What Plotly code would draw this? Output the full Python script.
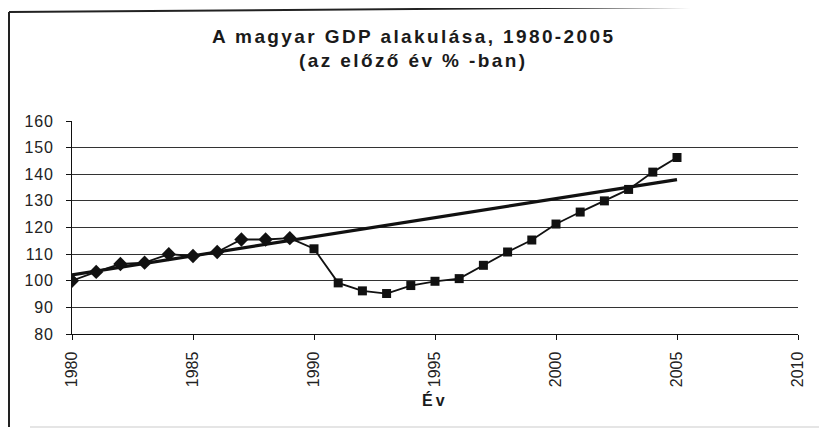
import plotly.graph_objects as go

# ---- data ----
years_1 = [1980, 1981, 1982, 1983, 1984, 1985, 1986, 1987, 1988, 1989]
gdp_1 = [100.0, 103.3, 106.3, 106.8, 110.0, 109.3, 110.8, 115.5, 115.5, 116.0]
years_2 = [1990, 1991, 1992, 1993, 1994, 1995, 1996, 1997, 1998, 1999,
           2000, 2001, 2002, 2003, 2004, 2005]
gdp_2 = [112.0, 99.2, 96.2, 95.2, 98.2, 99.8, 100.8, 105.8, 110.8, 115.3,
         121.3, 125.8, 130.0, 134.3, 140.8, 146.3]
trend_years = [1980, 2005]
trend_values = [102.2, 138.0]

x_ticks = [1980, 1985, 1990, 1995, 2000, 2005, 2010]
y_ticks = [80, 90, 100, 110, 120, 130, 140, 150, 160]
y_grid = [90, 100, 110, 120, 130, 140, 150]

title_1 = "A magyar GDP alakulása, 1980-2005"
title_2 = "(az előző év % -ban)"
x_title = "Év"

NARROW = "Liberation Sans Narrow, Arial Narrow, Liberation Sans, Arial, sans-serif"
SANS = "Liberation Sans, Arial, sans-serif"
INK = "#111111"

# the page has an 8px body margin, so the figure is 8px smaller
PX_L, PX_T, PLOT_W, PLOT_H = 72, 121, 726, 213   # plot box on screen


def px(x):
    return (x - PX_L) / PLOT_W


def py(y):
    return (PX_T + PLOT_H - y) / PLOT_H


fig = go.Figure()

fig.add_trace(go.Scatter(
    x=years_1 + years_2, y=gdp_1 + gdp_2, mode="lines",
    line=dict(color=INK, width=1.8), hoverinfo="skip", showlegend=False))
fig.add_trace(go.Scatter(
    x=trend_years, y=trend_values, mode="lines",
    line=dict(color=INK, width=3.2), showlegend=False))
fig.add_trace(go.Scatter(
    x=years_1, y=gdp_1, mode="markers",
    marker=dict(symbol="diamond", size=11, color=INK), showlegend=False))
fig.add_trace(go.Scatter(
    x=years_2, y=gdp_2, mode="markers",
    marker=dict(symbol="square", size=9, color=INK), showlegend=False))
fig.add_trace(go.Scatter(x=[x_ticks[0]], y=[y_ticks[0]], yaxis="y2",
                         mode="markers", marker=dict(opacity=0),
                         hoverinfo="skip", showlegend=False))

fig.update_layout(
    width=819, height=424,
    margin=dict(l=PX_L - 8, r=29, t=PX_T - 8, b=424 - (PX_T + PLOT_H - 8)),
    paper_bgcolor="white", plot_bgcolor="rgba(0,0,0,0)",
    xaxis=dict(
        range=[x_ticks[0], x_ticks[-1]], tickvals=x_ticks,
        ticktext=[str(v) for v in x_ticks],
        tickangle=-90, ticks="outside", ticklen=5, tickwidth=1.2,
        tickcolor=INK, showline=True, linecolor=INK, linewidth=1.4,
        showgrid=False, zeroline=False, ticklabelstandoff=5,
        tickfont=dict(family=SANS, size=16, color="#222"), automargin=False,
    ),
    yaxis=dict(
        range=[y_ticks[0], y_ticks[-1]], tickvals=y_ticks,
        ticktext=['<span style="letter-spacing:0.8px">%d</span>' % v for v in y_ticks],
        ticks="outside", ticklen=5, tickwidth=1.2, tickcolor=INK,
        showline=True, linecolor=INK, linewidth=1.4,
        showgrid=False, zeroline=False, ticklabelstandoff=9,
        tickfont=dict(family=NARROW, size=16, color="#222"), automargin=False,
    ),
    yaxis2=dict(
        overlaying="y", range=[y_ticks[0], y_ticks[-1]], tickvals=y_grid,
        showticklabels=False, ticks="", showgrid=True,
        gridcolor="#333333", gridwidth=1.1, zeroline=False, showline=False,
    ),
    annotations=[
        dict(text='<span style="letter-spacing:2.4px">%s</span>' % title_1,
             xref="paper", yref="paper", x=px(413), y=py(36),
             xanchor="center", yanchor="middle", showarrow=False,
             font=dict(family=NARROW, size=19, color="#1a1a1a", weight="bold")),
        dict(text='<span style="letter-spacing:2.4px">%s</span>' % title_2,
             xref="paper", yref="paper", x=px(413), y=py(60),
             xanchor="center", yanchor="middle", showarrow=False,
             font=dict(family=NARROW, size=19, color="#1a1a1a", weight="bold")),
        dict(text='<span style="letter-spacing:3px">%s</span>' % x_title,
             xref="paper", yref="paper", x=0.5, y=py(400),
             xanchor="center", yanchor="middle", showarrow=False,
             font=dict(family=NARROW, size=16, color="#1a1a1a", weight="bold")),
    ],
    shapes=[
        dict(type="line", xref="paper", yref="paper",
             x0=px(9), y0=py(12), x1=px(827), y1=py(6),
             line=dict(color="#222", width=2)),
        dict(type="line", xref="paper", yref="paper",
             x0=px(9), y0=py(12), x1=px(9), y1=py(427),
             line=dict(color="#222", width=2)),
        dict(type="line", xref="paper", yref="paper",
             x0=px(30), y0=py(427), x1=px(827), y1=py(427),
             line=dict(color="#dddddd", width=1.5)),
    ],
)

fig.write_html("out.html")
